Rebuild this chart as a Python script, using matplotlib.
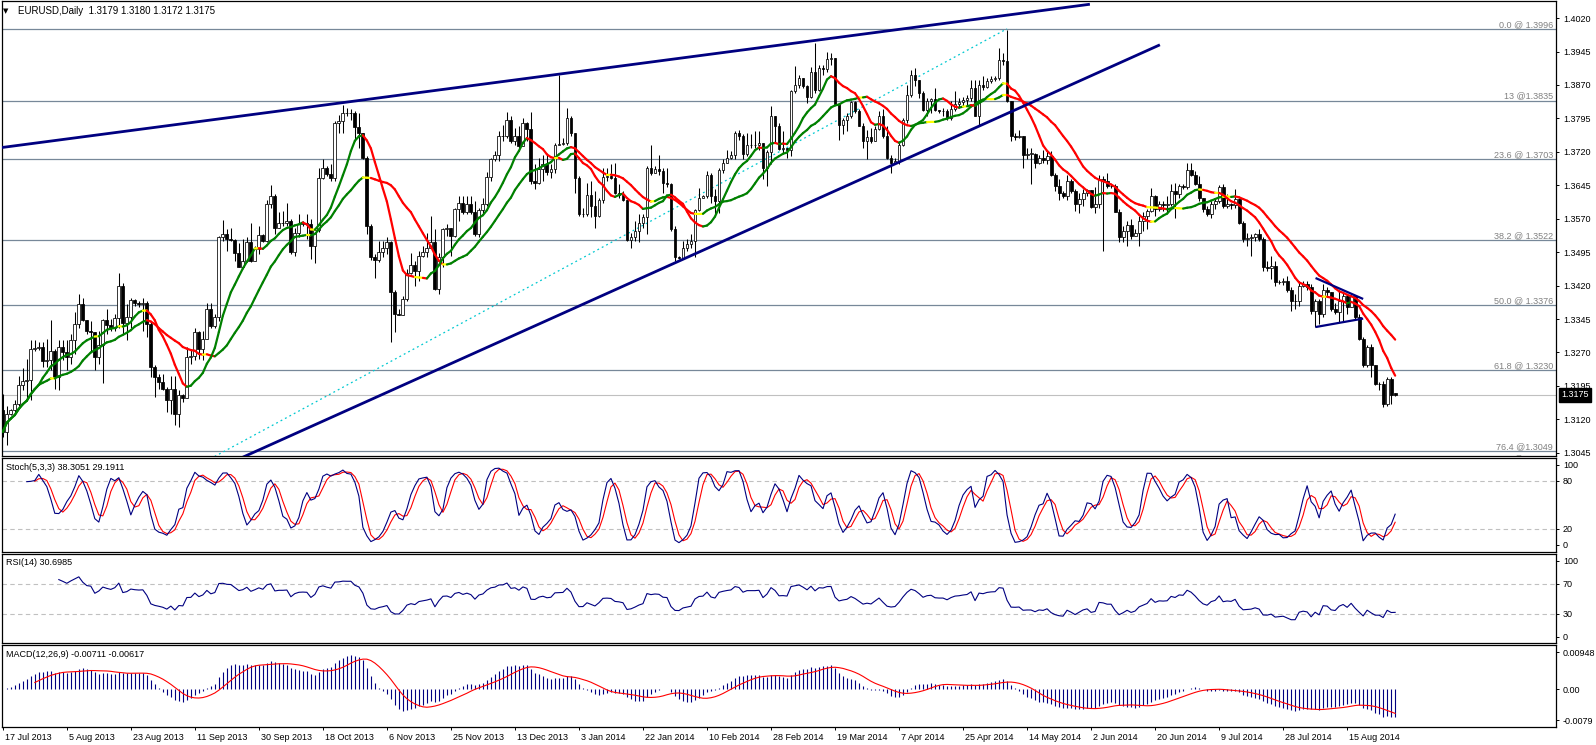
import numpy as np
import pandas as pd
import matplotlib
matplotlib.use("Agg")
import matplotlib.pyplot as plt
from matplotlib.collections import LineCollection
from matplotlib.transforms import blended_transform_factory, ScaledTranslation
from matplotlib.ticker import FixedLocator, FixedFormatter

# ---------------- data ----------------
symbol_title = "EURUSD,Daily"
header_ohlc = [1.3179, 1.3180, 1.3172, 1.3175]
first_open = 1.3140

closes = [
1.3092,1.3133,1.3140,1.3154,1.3198,1.3207,1.3209,1.3278,1.3280,1.3283,
1.3250,1.3253,1.3274,1.3215,1.3282,1.3271,1.3259,1.3297,1.3334,1.3379,
1.3343,1.3319,1.3315,1.3259,1.3287,1.3343,1.3332,1.3324,1.3347,1.3420,
1.3335,1.3349,1.3388,1.3382,1.3379,1.3382,1.3334,1.3237,1.3215,1.3203,
1.3189,1.3163,1.3189,1.3133,1.3174,1.3169,1.3259,1.3261,1.3317,1.3278,
1.3300,1.3367,1.3330,1.3349,1.3528,1.3535,1.3524,1.3522,1.3492,1.3461,
1.3476,1.3517,1.3476,1.3502,1.3534,1.3520,1.3602,1.3622,1.3550,1.3561,
1.3561,1.3565,1.3496,1.3539,1.3558,1.3561,1.3559,1.3509,1.3545,1.3662,
1.3684,1.3671,1.3662,1.3785,1.3790,1.3807,1.3806,1.3806,1.3775,1.3762,
1.3707,1.3554,1.3485,1.3477,1.3496,1.3505,1.3517,1.3405,1.3356,1.3355,
1.3390,1.3449,1.3466,1.3452,1.3487,1.3496,1.3504,1.3517,1.3412,1.3483,
1.3546,1.3550,1.3531,1.3591,1.3606,1.3584,1.3602,1.3586,1.3535,1.3589,
1.3604,1.3663,1.3703,1.3714,1.3755,1.3756,1.3792,1.3745,1.3755,1.3733,
1.3785,1.3772,1.3654,1.3651,1.3681,1.3692,1.3675,1.3681,1.3735,1.3738,
1.3740,1.3795,1.3762,1.3662,1.3580,1.3581,1.3623,1.3599,1.3576,1.3611,
1.3663,1.3666,1.3662,1.3628,1.3623,1.3613,1.3522,1.3528,1.3543,1.3561,
1.3573,1.3684,1.3673,1.3681,1.3678,1.3651,1.3648,1.3546,1.3485,1.3482,
1.3505,1.3513,1.3520,1.3589,1.3617,1.3621,1.3669,1.3621,1.3610,1.3680,
1.3695,1.3706,1.3714,1.3762,1.3755,1.3716,1.3736,1.3736,1.3736,1.3740,
1.3684,1.3719,1.3801,1.3777,1.3727,1.3729,1.3725,1.3856,1.3870,1.3885,
1.3867,1.3844,1.3900,1.3858,1.3908,1.3905,1.3928,1.3930,1.3828,1.3781,
1.3792,1.3800,1.3831,1.3811,1.3779,1.3744,1.3753,1.3744,1.3771,1.3800,
1.3755,1.3706,1.3695,1.3699,1.3736,1.3791,1.3848,1.3893,1.3881,1.3852,
1.3814,1.3833,1.3838,1.3814,1.3811,1.3811,1.3796,1.3815,1.3828,1.3831,
1.3837,1.3841,1.3863,1.3801,1.3870,1.3865,1.3878,1.3883,1.3885,1.3926,
1.3923,1.3833,1.3755,1.3753,1.3755,1.3714,1.3716,1.3716,1.3695,1.3706,
1.3701,1.3710,1.3669,1.3643,1.3628,1.3622,1.3654,1.3632,1.3602,1.3615,
1.3628,1.3634,1.3597,1.3602,1.3658,1.3654,1.3643,1.3643,1.3585,1.3530,
1.3542,1.3557,1.3531,1.3539,1.3565,1.3576,1.3587,1.3621,1.3591,1.3602,
1.3600,1.3602,1.3632,1.3625,1.3643,1.3641,1.3680,1.3669,1.3647,1.3617,
1.3591,1.3580,1.3602,1.3610,1.3641,1.3599,1.3604,1.3601,1.3614,1.3561,
1.3524,1.3526,1.3528,1.3535,1.3524,1.3461,1.3459,1.3464,1.3427,1.3429,
1.3431,1.3409,1.3386,1.3386,1.3418,1.3423,1.3416,1.3364,1.3386,1.3356,
1.3409,1.3405,1.3367,1.3360,1.3386,1.3397,1.3371,1.3397,1.3349,1.3300,
1.3241,1.3283,1.3241,1.3200,1.3200,1.3155,1.3211,1.3174,1.3175]

highs = [
1.3177,1.3151,1.3144,1.3164,1.3218,1.3235,1.3256,1.3297,1.3298,1.3293,
1.3293,1.3300,1.3343,1.3278,1.3297,1.3297,1.3297,1.3312,1.3360,1.3401,
1.3393,1.3341,1.3341,1.3312,1.3319,1.3345,1.3367,1.3345,1.3356,1.3449,
1.3425,1.3379,1.3393,1.3390,1.3386,1.3393,1.3386,1.3338,1.3241,1.3222,
1.3222,1.3192,1.3218,1.3218,1.3185,1.3177,1.3282,1.3278,1.3326,1.3319,
1.3319,1.3382,1.3382,1.3356,1.3531,1.3567,1.3546,1.3550,1.3524,1.3516,
1.3524,1.3528,1.3561,1.3509,1.3554,1.3535,1.3613,1.3645,1.3625,1.3584,
1.3587,1.3606,1.3569,1.3550,1.3580,1.3565,1.3580,1.3569,1.3550,1.3684,
1.3705,1.3688,1.3692,1.3789,1.3803,1.3826,1.3818,1.3815,1.3811,1.3807,
1.3755,1.3710,1.3558,1.3491,1.3520,1.3520,1.3528,1.3520,1.3409,1.3367,
1.3397,1.3457,1.3494,1.3476,1.3498,1.3509,1.3539,1.3576,1.3546,1.3494,
1.3550,1.3558,1.3543,1.3595,1.3621,1.3621,1.3621,1.3621,1.3610,1.3595,
1.3617,1.3675,1.3707,1.3721,1.3766,1.3781,1.3809,1.3800,1.3774,1.3777,
1.3796,1.3788,1.3809,1.3692,1.3707,1.3714,1.3714,1.3692,1.3740,1.3893,
1.3751,1.3818,1.3800,1.3759,1.3666,1.3595,1.3651,1.3654,1.3632,1.3617,
1.3684,1.3684,1.3692,1.3695,1.3647,1.3632,1.3613,1.3539,1.3565,1.3580,
1.3580,1.3688,1.3736,1.3688,1.3714,1.3684,1.3684,1.3651,1.3554,1.3487,
1.3520,1.3524,1.3535,1.3591,1.3639,1.3624,1.3677,1.3673,1.3636,1.3684,
1.3703,1.3725,1.3721,1.3766,1.3770,1.3759,1.3762,1.3759,1.3766,1.3766,
1.3740,1.3725,1.3822,1.3792,1.3785,1.3766,1.3729,1.3858,1.3913,1.3893,
1.3882,1.3870,1.3911,1.3964,1.3915,1.3915,1.3945,1.3941,1.3926,1.3829,
1.3796,1.3807,1.3833,1.3833,1.3815,1.3785,1.3770,1.3773,1.3777,1.3811,
1.3815,1.3777,1.3714,1.3706,1.3744,1.3796,1.3870,1.3904,1.3908,1.3870,
1.3856,1.3841,1.3841,1.3863,1.3814,1.3818,1.3815,1.3833,1.3856,1.3841,
1.3844,1.3848,1.3882,1.3882,1.3882,1.3889,1.3885,1.3889,1.3891,1.3952,
1.3941,1.3993,1.3833,1.3762,1.3770,1.3755,1.3729,1.3729,1.3718,1.3714,
1.3725,1.3725,1.3721,1.3673,1.3658,1.3632,1.3667,1.3658,1.3636,1.3628,
1.3636,1.3637,1.3632,1.3640,1.3669,1.3666,1.3673,1.3647,1.3647,1.3591,
1.3554,1.3565,1.3569,1.3546,1.3576,1.3584,1.3591,1.3639,1.3624,1.3610,
1.3610,1.3621,1.3647,1.3651,1.3647,1.3647,1.3695,1.3695,1.3677,1.3665,
1.3613,1.3598,1.3610,1.3617,1.3645,1.3647,1.3625,1.3606,1.3636,1.3617,
1.3565,1.3537,1.3535,1.3537,1.3546,1.3528,1.3476,1.3487,1.3476,1.3432,
1.3438,1.3442,1.3416,1.3401,1.3431,1.3431,1.3431,1.3423,1.3390,1.3390,
1.3423,1.3416,1.3401,1.3382,1.3409,1.3405,1.3401,1.3401,1.3397,1.3356,
1.3304,1.3286,1.3289,1.3237,1.3204,1.3207,1.3215,1.3215,1.3180]

lows = [
1.3081,1.3062,1.3129,1.3137,1.3151,1.3185,1.3163,1.3163,1.3274,1.3276,
1.3237,1.3237,1.3230,1.3189,1.3185,1.3252,1.3230,1.3244,1.3267,1.3326,
1.3341,1.3312,1.3274,1.3230,1.3244,1.3201,1.3312,1.3319,1.3319,1.3326,
1.3312,1.3297,1.3326,1.3375,1.3371,1.3319,1.3304,1.3215,1.3170,1.3189,
1.3185,1.3137,1.3133,1.3107,1.3103,1.3159,1.3170,1.3244,1.3252,1.3256,
1.3252,1.3356,1.3326,1.3326,1.3341,1.3520,1.3498,1.3520,1.3475,1.3461,
1.3468,1.3472,1.3472,1.3487,1.3491,1.3517,1.3517,1.3595,1.3535,1.3558,
1.3554,1.3554,1.3491,1.3487,1.3528,1.3554,1.3524,1.3480,1.3470,1.3541,
1.3658,1.3666,1.3654,1.3654,1.3763,1.3763,1.3800,1.3792,1.3748,1.3729,
1.3703,1.3535,1.3477,1.3438,1.3472,1.3483,1.3491,1.3293,1.3315,1.3353,
1.3353,1.3386,1.3446,1.3420,1.3431,1.3483,1.3483,1.3509,1.3409,1.3401,
1.3461,1.3531,1.3487,1.3528,1.3565,1.3580,1.3580,1.3580,1.3531,1.3528,
1.3580,1.3599,1.3654,1.3699,1.3699,1.3744,1.3751,1.3740,1.3736,1.3721,
1.3744,1.3744,1.3647,1.3636,1.3647,1.3654,1.3669,1.3662,1.3673,1.3735,
1.3736,1.3736,1.3755,1.3628,1.3576,1.3573,1.3576,1.3573,1.3550,1.3573,
1.3606,1.3654,1.3658,1.3625,1.3617,1.3610,1.3520,1.3504,1.3520,1.3517,
1.3550,1.3535,1.3669,1.3673,1.3669,1.3628,1.3640,1.3543,1.3476,1.3479,
1.3479,1.3498,1.3505,1.3483,1.3587,1.3616,1.3617,1.3606,1.3580,1.3583,
1.3673,1.3695,1.3703,1.3703,1.3747,1.3703,1.3710,1.3729,1.3729,1.3725,
1.3658,1.3643,1.3692,1.3740,1.3725,1.3718,1.3707,1.3710,1.3852,1.3863,
1.3863,1.3829,1.3841,1.3852,1.3856,1.3893,1.3900,1.3915,1.3826,1.3747,
1.3759,1.3766,1.3796,1.3807,1.3777,1.3729,1.3703,1.3740,1.3744,1.3770,
1.3751,1.3703,1.3673,1.3695,1.3692,1.3733,1.3785,1.3844,1.3867,1.3841,
1.3811,1.3800,1.3807,1.3811,1.3807,1.3800,1.3792,1.3792,1.3811,1.3818,
1.3822,1.3826,1.3833,1.3800,1.3777,1.3859,1.3863,1.3874,1.3878,1.3882,
1.3915,1.3831,1.3744,1.3747,1.3751,1.3684,1.3703,1.3647,1.3684,1.3692,
1.3695,1.3692,1.3665,1.3632,1.3613,1.3617,1.3613,1.3628,1.3587,1.3583,
1.3598,1.3621,1.3595,1.3583,1.3595,1.3497,1.3639,1.3639,1.3584,1.3517,
1.3517,1.3509,1.3524,1.3531,1.3509,1.3543,1.3546,1.3584,1.3576,1.3587,
1.3587,1.3583,1.3598,1.3572,1.3617,1.3636,1.3636,1.3666,1.3645,1.3610,
1.3584,1.3576,1.3571,1.3591,1.3606,1.3595,1.3595,1.3591,1.3595,1.3558,
1.3517,1.3509,1.3487,1.3520,1.3520,1.3453,1.3453,1.3434,1.3420,1.3423,
1.3422,1.3405,1.3364,1.3367,1.3375,1.3416,1.3409,1.3356,1.3327,1.3334,
1.3349,1.3397,1.3364,1.3356,1.3338,1.3341,1.3356,1.3382,1.3345,1.3297,
1.3237,1.3237,1.3215,1.3196,1.3185,1.3148,1.3151,1.3155,1.3172]

date_labels = ["17 Jul 2013", "5 Aug 2013", "23 Aug 2013", "11 Sep 2013", "30 Sep 2013",
               "18 Oct 2013", "6 Nov 2013", "25 Nov 2013", "13 Dec 2013", "3 Jan 2014",
               "22 Jan 2014", "10 Feb 2014", "28 Feb 2014", "19 Mar 2014", "7 Apr 2014",
               "25 Apr 2014", "14 May 2014", "2 Jun 2014", "20 Jun 2014", "9 Jul 2014",
               "28 Jul 2014", "15 Aug 2014"]
bars_per_label = 16

price_ticks = [1.3045, 1.3120, 1.3195, 1.3270, 1.3345, 1.3420, 1.3495, 1.3570,
               1.3645, 1.3720, 1.3795, 1.3870, 1.3945, 1.4020]

# Fibonacci retracement (anchor bars / prices) and its levels
fib_anchor_bars = [-5, 251]
fib_anchor_prices = [1.2756, 1.3996]
fib_levels = [0.0, 13, 23.6, 38.2, 50.0, 61.8, 76.4, 78.6]
fib_names = ["0.0 @ ", "13 @", "23.6 @ ", "38.2 @ ", "50.0 @ ", "61.8 @ ", "76.4 @", "78.6 @ "]

# trend lines (bar index, price)
upper_channel_bars = [-0.8, 271.7]
upper_channel_prices = [1.3729, 1.4051]
lower_channel_bars = [55, 289.2]
lower_channel_prices = [1.3015, 1.3960]
triangle_top_bars = [328.1, 340.0]
triangle_top_prices = [1.3437, 1.3390]
triangle_bot_bars = [328.1, 340.0]
triangle_bot_prices = [1.3327, 1.3346]

stoch_text = "Stoch(5,3,3) 38.3051 29.1911"
rsi_text = "RSI(14) 30.6985"
macd_text = "MACD(12,26,9) -0.00711 -0.00617"
macd_tick_values = [0.00948, 0.0, -0.0079]
macd_tick_labels = ["0.00948", "0.00", "-0.0079"]

# ---------------- derived series ----------------
c = np.array(closes)
o = np.concatenate([[first_open], c[:-1]])
o[-1] = header_ohlc[0]
h = np.maximum.reduce([np.array(highs), o, c])
l = np.minimum.reduce([np.array(lows), o, c])
n = len(c)
x = np.arange(n)

cs = pd.Series(c)
hs = pd.Series(h)
ls = pd.Series(l)
ma_fast = cs.rolling(10, min_periods=1).mean().values
ma_slow = cs.rolling(20, min_periods=1).mean().values

ll5 = ls.rolling(5).min()
hh5 = hs.rolling(5).max()
stoch_k = 100 * (cs - ll5).rolling(3).sum() / (hh5 - ll5).rolling(3).sum()
stoch_d = stoch_k.rolling(3).mean()

delta = np.diff(c)
gains = np.clip(delta, 0, None)
losses = np.clip(-delta, 0, None)
rsi = np.full(n, np.nan)
ag = gains[:14].mean()
al = losses[:14].mean()
rsi[14] = 100 - 100 / (1 + ag / al) if al > 0 else 100
for i in range(15, n):
    ag = (ag * 13 + gains[i - 1]) / 14
    al = (al * 13 + losses[i - 1]) / 14
    rsi[i] = 100 - 100 / (1 + ag / al) if al > 0 else 100

macd = (cs.ewm(span=12, adjust=False).mean() - cs.ewm(span=26, adjust=False).mean()).values
macd_sig = pd.Series(macd).rolling(9).mean().values

# ---------------- figure layout ----------------
plt.rcParams["font.family"] = ["Liberation Sans", "DejaVu Sans"]
plt.rcParams["font.size"] = 6.5
W, H = 1596, 745
fig = plt.figure(figsize=(W / 100, H / 100), dpi=100)
fig.patch.set_facecolor("white")


def add_panel(y_top, y_bot):
    return fig.add_axes([1.5 / W, 1 - y_bot / H, (1556 - 1.5) / W, (y_bot - y_top) / H])


ax = add_panel(0.5, 456)
ax_st = add_panel(458, 552)
ax_rsi = add_panel(554, 643)
ax_macd = add_panel(645, 727)

xlim = (-0.325, 388.2)
for a in (ax, ax_st, ax_rsi, ax_macd):
    a.set_xlim(*xlim)
    a.set_facecolor("white")
    for s in a.spines.values():
        s.set_color("black")
        s.set_linewidth(0.9)
    a.yaxis.tick_right()
    a.tick_params(axis="y", direction="out", length=2.5, width=0.7, pad=2.5,
                  labelsize=6.5, colors="black")
    a.tick_params(axis="x", bottom=False, labelbottom=False)

# ---------------- main price panel ----------------
ax.set_ylim(1.30378, 1.40594)
ax.set_yticks(price_ticks)
ax.set_yticklabels([f"{p:.4f}" for p in price_ticks])

fib_lo, fib_hi = fib_anchor_prices
for lvl, name in zip(fib_levels, fib_names):
    p = fib_hi - lvl / 100.0 * (fib_hi - fib_lo)
    ax.axhline(p, color="#778899", lw=0.9, zorder=1)
    ax.text(0.998, p, f"{name}{p:.4f}", transform=blended_transform_factory(ax.transAxes, ax.transData),
            ha="right", va="bottom", color="#808080", fontsize=6.5, zorder=1, clip_on=True)

ax.axhline(header_ohlc[3], color="#c0c0c0", lw=0.8, zorder=1)
ax.plot(fib_anchor_bars, fib_anchor_prices, color="#00c8d0", lw=0.9, ls=(0, (1.5, 2.5)), zorder=2)

# candles
ax.vlines(x, l, h, colors="black", linewidth=0.75, zorder=3)
body_bot = np.minimum(o, c)
body_h = np.maximum(np.abs(c - o), 0.00004)
body_col = np.where(c >= o, "white", "black")
ax.bar(x, body_h, bottom=body_bot, width=0.72, color=body_col, edgecolor="black",
       linewidth=0.55, zorder=4)


def slope_line(a, xs, ys, thr=0.0001):
    pts = np.column_stack([xs, ys])
    segs = np.stack([pts[:-1], pts[1:]], axis=1)
    dy = np.diff(ys)
    cols = np.where(dy > thr, "#008000", np.where(dy < -thr, "#ff0000", "#ffff00"))
    a.add_collection(LineCollection(segs, colors=cols, linewidths=1.6, zorder=5,
                                    capstyle="round"))


slope_line(ax, x, ma_slow)
slope_line(ax, x, ma_fast)

for bx, py in ((upper_channel_bars, upper_channel_prices),
               (lower_channel_bars, lower_channel_prices)):
    ax.plot(bx, py, color="#000080", lw=2.0, zorder=6, solid_capstyle="butt")
for bx, py in ((triangle_top_bars, triangle_top_prices),
               (triangle_bot_bars, triangle_bot_prices)):
    ax.plot(bx, py, color="#000080", lw=1.6, zorder=6, solid_capstyle="butt")

ax.text(1.0 + 5 / 1554.5, header_ohlc[3], f"{header_ohlc[3]:.4f}",
        transform=blended_transform_factory(ax.transAxes, ax.transData),
        ha="left", va="center", color="white", fontsize=6.5, zorder=10,
        bbox=dict(boxstyle="square,pad=0.25", fc="black", ec="black"))

fig.text(3 / W, 1 - 11 / H, "\u25bc", fontsize=5, family="DejaVu Sans", va="center", color="black")
fig.text(18 / W, 1 - 11 / H, f"{symbol_title}  " + " ".join(f"{v:.4f}" for v in header_ohlc),
         fontsize=7, va="center", color="black")

# ---------------- stochastic ----------------
ax_st.set_ylim(-8.75, 108.75)
ax_st.set_yticks([100, 80, 20, 0])
ax_st.set_yticklabels(["100", "80", "20", "0"])
for lv in (20, 80):
    ax_st.axhline(lv, color="#c0c0c0", lw=0.8, ls=(0, (4, 3)), zorder=1)
ax_st.plot(x, stoch_d.values, color="#ff0000", lw=0.8, zorder=3)
ax_st.plot(x, stoch_k.values, color="#000080", lw=0.8, zorder=4)
ax_st.text(5 / 1554.5, 0.90, stoch_text, transform=ax_st.transAxes, fontsize=6.5, va="center")

# ---------------- RSI ----------------
ax_rsi.set_ylim(-8.3, 109.2)
ax_rsi.set_yticks([100, 70, 30, 0])
ax_rsi.set_yticklabels(["100", "70", "30", "0"])
for lv in (30, 70):
    ax_rsi.axhline(lv, color="#c0c0c0", lw=0.8, ls=(0, (4, 3)), zorder=1)
ax_rsi.plot(x, rsi, color="#000080", lw=0.8, zorder=3)
ax_rsi.text(5 / 1554.5, 0.90, rsi_text, transform=ax_rsi.transAxes, fontsize=6.5, va="center")

# ---------------- MACD ----------------
ax_macd.set_ylim(-0.00969, 0.01135)
ax_macd.yaxis.set_major_locator(FixedLocator(macd_tick_values))
ax_macd.yaxis.set_major_formatter(FixedFormatter(macd_tick_labels))
ax_macd.vlines(x, 0, macd, colors="#000080", linewidth=0.8, zorder=2)
ax_macd.plot(x, macd_sig, color="#ff0000", lw=0.8, zorder=3)
ax_macd.text(5 / 1554.5, 0.89, macd_text, transform=ax_macd.transAxes, fontsize=6.5, va="center")

tick_pos = np.arange(len(date_labels)) * bars_per_label
ax_macd.set_xticks(tick_pos)
ax_macd.set_xticklabels(date_labels)
ax_macd.tick_params(axis="x", bottom=True, labelbottom=True, direction="out", length=2.5,
                    width=0.7, pad=1.5, labelsize=6.5)
off = ScaledTranslation(1.5 / 72, 0, fig.dpi_scale_trans)
for t in ax_macd.get_xticklabels():
    t.set_horizontalalignment("left")
    t.set_transform(t.get_transform() + off)

fig.savefig("out.png", dpi=100, facecolor="white")
